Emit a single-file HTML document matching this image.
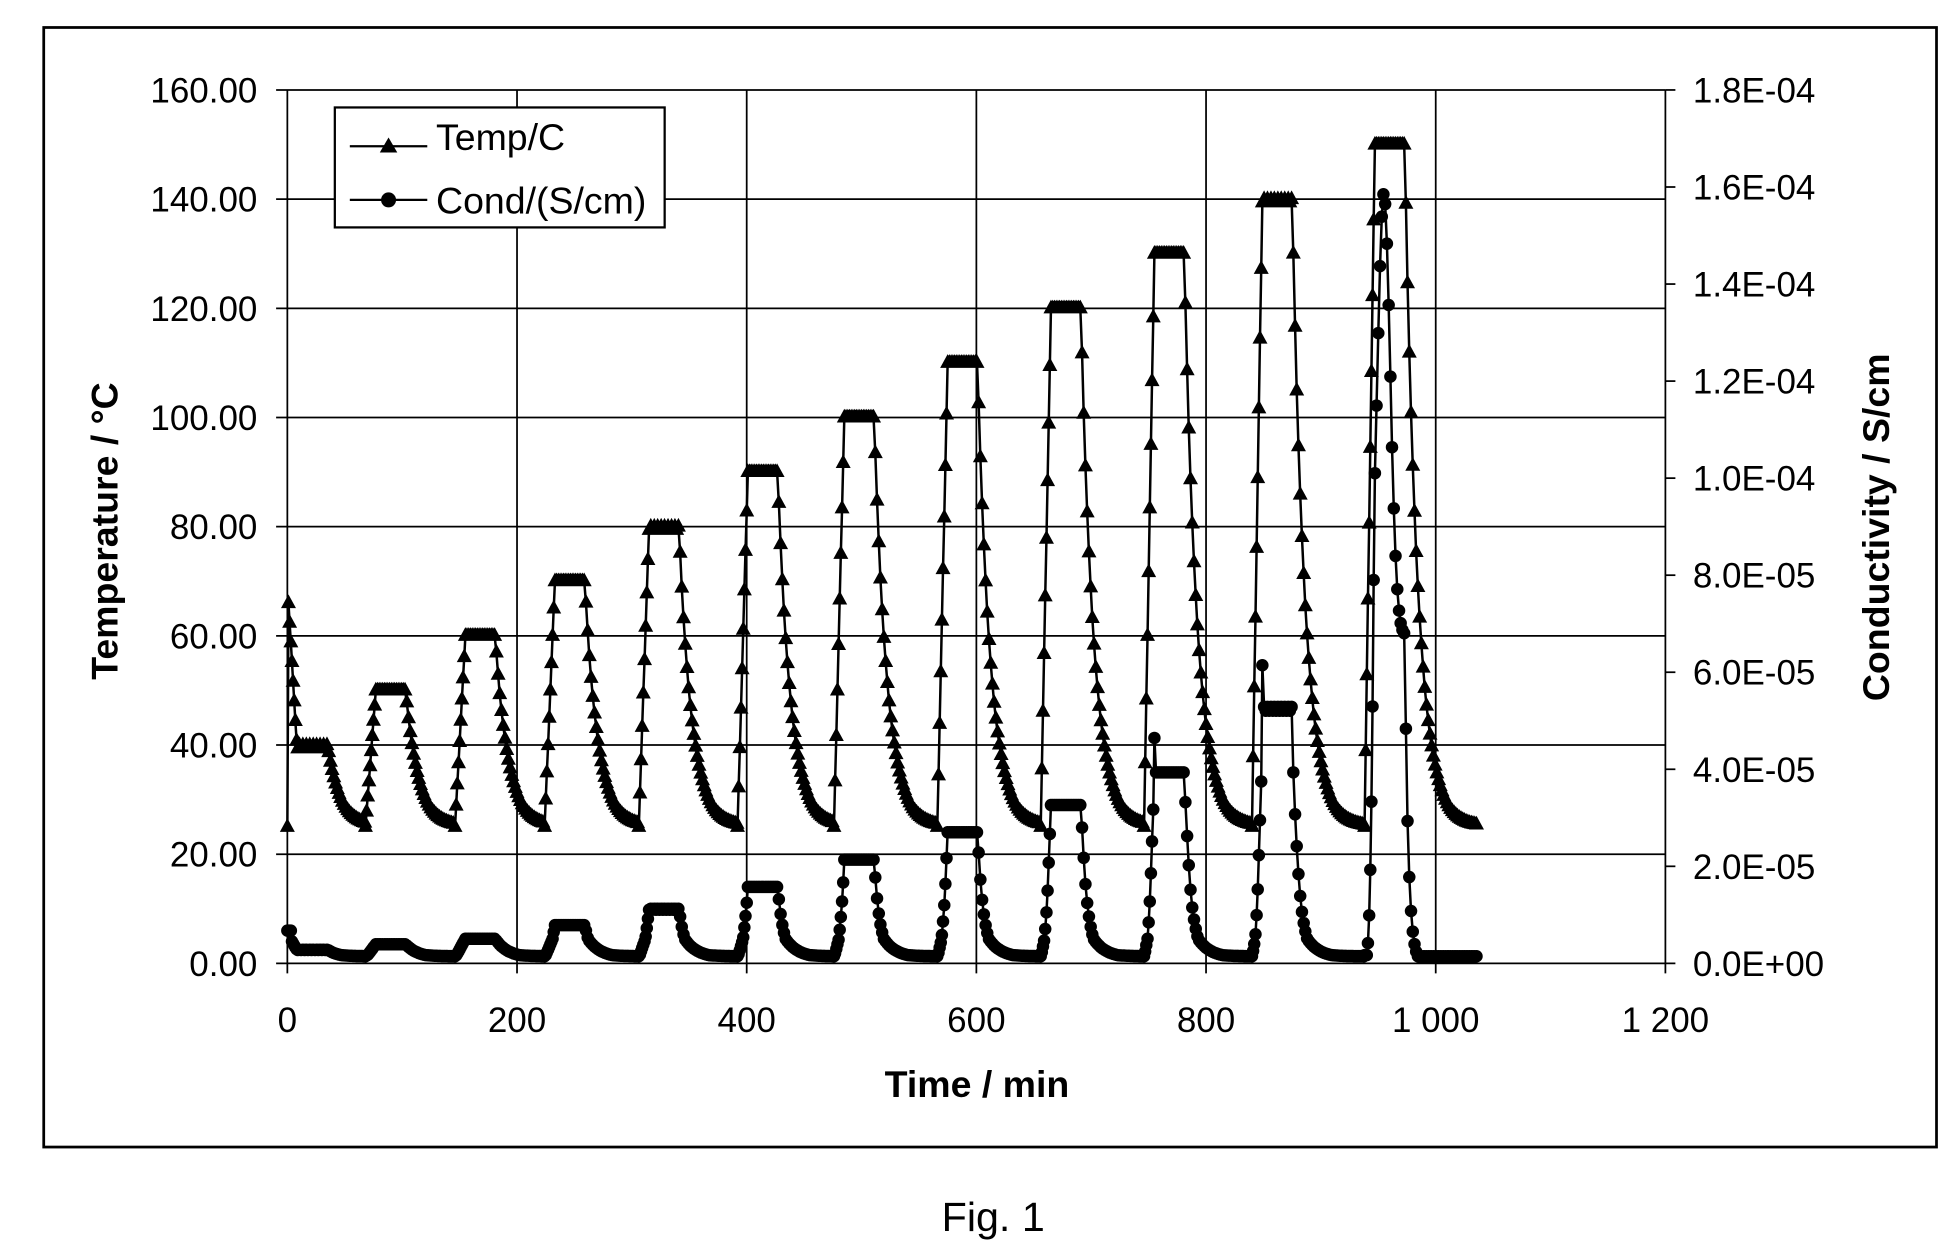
<!DOCTYPE html>
<html><head><meta charset="utf-8"><style>
html,body{margin:0;padding:0;background:#fff;}
svg{display:block;}
text{font-family:"Liberation Sans",Arial,sans-serif;fill:#000;}
</style></head><body>
<svg id="s" width="1949" height="1252" viewBox="0 0 1560 1002" preserveAspectRatio="none" xmlns="http://www.w3.org/2000/svg">
<rect x="0" y="0" width="1560" height="1002" fill="#fff"/>
<rect x="35" y="22" width="1515" height="896" fill="none" stroke="#000" stroke-width="2.2"/>
<g id="grid" stroke="#000" stroke-width="1.4"></g>
<g id="labels" font-size="28"></g>
<g id="series"></g>
<text x="782" y="878" font-size="30" font-weight="bold" text-anchor="middle">Time / min</text>
<text transform="translate(94,425) rotate(-90)" font-size="30" font-weight="bold" text-anchor="middle">Temperature / °C</text>
<text transform="translate(1512,422) rotate(-90)" font-size="30" font-weight="bold" text-anchor="middle">Conductivity / S/cm</text>
<rect x="268" y="86" width="264" height="96" fill="#fff" stroke="#000" stroke-width="1.8"/>
<line x1="280" y1="117" x2="342" y2="117" stroke="#000" stroke-width="1.8"/>
<polygon points="311,110 304,122 318,122" fill="#000"/>
<text x="349" y="120" font-size="30">Temp/C</text>
<line x1="280" y1="160" x2="342" y2="160" stroke="#000" stroke-width="1.8"/>
<circle cx="311" cy="160" r="6" fill="#000"/>
<text x="349" y="171" font-size="30">Cond/(S/cm)</text>
<text x="795" y="985" font-size="33" text-anchor="middle" font-family="DejaVu Sans, sans-serif">Fig. 1</text>
</svg>
<script>
var NS="http://www.w3.org/2000/svg";
function el(p,n,a,t){var e=document.createElementNS(NS,n);for(var k in a)e.setAttribute(k,a[k]);if(t!==undefined)e.textContent=t;p.appendChild(e);return e;}
function X(t){return 230+t*1103/1200;}
function Y(v){return 771-v*699/160;}
var g=document.getElementById('grid'),L=document.getElementById('labels');
var rl=["0.0E+00","2.0E-05","4.0E-05","6.0E-05","8.0E-05","1.0E-04","1.2E-04","1.4E-04","1.6E-04","1.8E-04"];
for(var i=0;i<=8;i++){var y=Y(i*20);el(g,'line',{x1:221,y1:y,x2:1333,y2:y});el(L,'text',{x:206,y:y+10,'text-anchor':'end'},(i*20).toFixed(2));}
for(var i=0;i<=9;i++){var y=Y(i*160/9);el(L,'text',{x:1355,y:y+10},rl[i]);el(g,'line',{x1:1333,y1:y,x2:1341,y2:y});}
for(var i=0;i<=6;i++){var x=X(i*200);el(g,'line',{x1:x,y1:Y(160),x2:x,y2:779});
 el(L,'text',{x:x,y:826,'text-anchor':'middle'},["0","200","400","600","800","1 000","1 200"][i]);}
var starts=[0,68,146,224,306,392,476,566,656,746,840,938];
var T=[],C=[],ts=[];
var tab=[[20,1],[25,1.3],[30,1.5],[40,2.5],[50,3.5],[60,4.5],[70,7],[80,10],[90,14],[100,19],[110,24],[120,29],[130,35],[140,47],[150,100]];
function cf(v){for(var i=1;i<tab.length;i++){if(v<=tab[i][0]){var a=tab[i-1],b=tab[i];return a[1]+(b[1]-a[1])*(v-a[0])/(b[0]-a[0]);}}return 100;}
for(var k=0;k<12;k++){
 var s=starts[k],p=40+10*k,len=26,end=(k<11?starts[k+1]:1036);
 var pl=s+9,pe=pl+len;
 var t=s;
 while(t<end){
  var v,c;
  if(t<pl){v=25+(p-25)*(t-s)/9; if(k==0&&t>=1)v=66-(t-1)*3.6;}
  else if(t<=pe){v=p-((Math.round(t)%3==0)?0.6:0);}
  else{v=25+(p-25)*Math.exp(-(t-pe)/11);}
  c=cf(v);
  if(t==pl&&(k==9||k==10))c*=1.18;
  if(k==0&&t<4)c=6;
  if(k==11){
   if(t>=pl&&t<=pe){var u=(t-pl)/len;c=60+81*Math.exp(-Math.pow((u-0.3)/0.3,2));}
   else if(t<pl){c=Math.max(1.5,Math.pow((t-s)/9,3)*100);}
   else{c=Math.max(1.3,60*Math.exp(-(t-pe)/3));}
  }
  ts.push(t);T.push(v);C.push(c);
  t+= (t<pl)?1:1.5;
 }
}
var S=document.getElementById('series');
function draw(arr,tri){
 var pts=ts.map(function(t,i){return X(t).toFixed(1)+','+Y(arr[i]).toFixed(1);}).join(' ');
 el(S,'polyline',{points:pts,fill:'none',stroke:'#000','stroke-width':2});
 var d='';
 ts.forEach(function(t,i){var x=X(t),y=Y(arr[i]);
  if(tri)d+='M'+x.toFixed(1)+','+(y-7).toFixed(1)+'l-6,11h12z';
  else d+='M'+(x-5).toFixed(1)+','+y.toFixed(1)+'a5,5 0 1,0 10,0a5,5 0 1,0 -10,0z';});
 el(S,'path',{d:d,fill:'#000'});
}
draw(T,true);draw(C,false);
</script>
</body></html>
